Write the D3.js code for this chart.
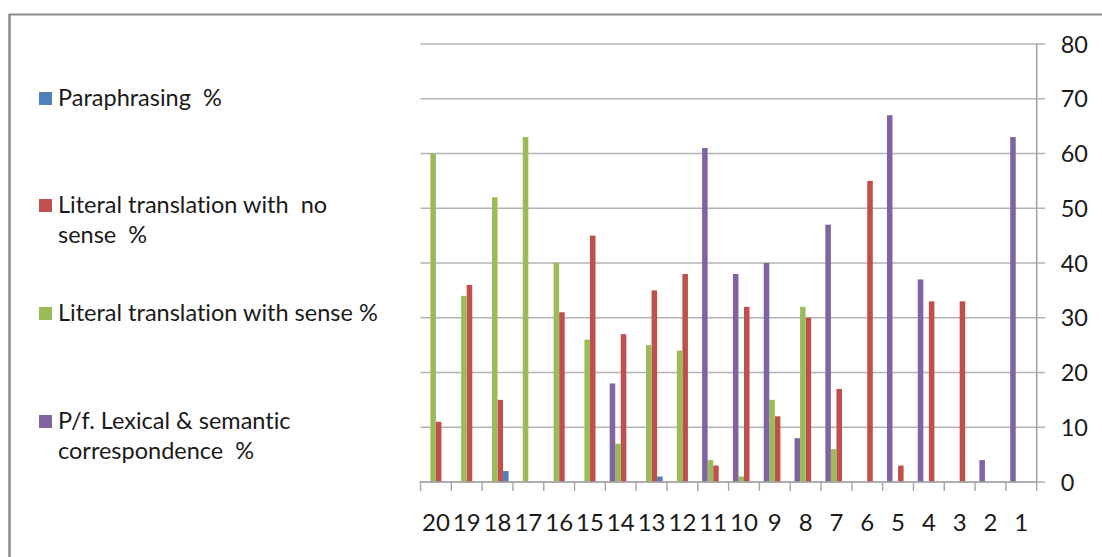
<!DOCTYPE html>
<html>
<head>
<meta charset="utf-8">
<script src="https://cdn.jsdelivr.net/npm/d3@7"></script>
<style>
  html, body { margin: 0; padding: 0; background: #fff; }
  svg { display: block; }
  text { font-family: Lato, "Open Sans", sans-serif; fill: #1a1a1a; white-space: pre; font-variant-ligatures: none; font-feature-settings: "liga" 0; }
</style>
</head>
<body>
<svg id="chart" width="1102" height="557"></svg>
<script>
// ---- data ----
const categories = ["20","19","18","17","16","15","14","13","12","11","10","9","8","7","6","5","4","3","2","1"];
const seriesNames = [
  "Paraphrasing  %",
  "Literal translation with  no sense  %",
  "Literal translation with sense %",
  "P/f. Lexical & semantic correspondence  %"
];
const paraphrasing   = [0,0,2,0,0,0,0,1,0,0,0,0,0,0,0,0,0,0,0,0];
const literalNoSense = [11,36,15,0,31,45,27,35,38,3,32,12,30,17,55,3,33,33,0,0];
const literalSense   = [60,34,52,63,40,26,7,25,24,4,1,15,32,6,0,0,0,0,0,0];
const lexicalSemantic= [0,0,0,0,0,0,18,0,0,61,38,40,8,47,0,67,37,0,4,63];
const yTicks = [0,10,20,30,40,50,60,70,80];

const legendLines = [
  ["Paraphrasing  %"],
  ["Literal translation with  no", "sense  %"],
  ["Literal translation with sense %"],
  ["P/f. Lexical & semantic", "correspondence  %"]
];
const colors = ["#4F81BD", "#C0504D", "#9BBB59", "#8064A2"];
const seriesValues = [paraphrasing, literalNoSense, literalSense, lexicalSemantic];

// ---- layout ----
const svg = d3.select("#chart");
const plot = { left: 420.5, right: 1036.7, top: 44, bottom: 482 };

const x = d3.scaleBand().domain(categories).range([plot.left, plot.right]).paddingInner(0).paddingOuter(0);
const bw = x.bandwidth();
const groupW = bw * 0.72;
// reversed category axis -> series order visually reversed
const x1 = d3.scaleBand().domain([3,2,1,0]).range([(bw - groupW) / 2, (bw + groupW) / 2]);
const y = d3.scaleLinear().domain([0, 80]).range([plot.bottom, plot.top]);

// border
svg.append("line").attr("x1", 9).attr("x2", 1102).attr("y1", 14.5).attr("y2", 14.5)
  .attr("stroke", "#8c8c8c").attr("stroke-width", 2);
svg.append("line").attr("x1", 9.5).attr("x2", 9.5).attr("y1", 14).attr("y2", 557)
  .attr("stroke", "#8c8c8c").attr("stroke-width", 2.5);

// gridlines (right axis with outside ticks)
const yAxis = d3.axisRight(y).tickValues(yTicks).tickSize(0).tickPadding(0).tickFormat(d3.format("d"));
const grid = svg.append("g");
grid.selectAll("line").data(yTicks).join("line")
  .attr("x1", plot.left).attr("x2", plot.right + 8.5)
  .attr("y1", d => y(d)).attr("y2", d => y(d))
  .attr("stroke", "#b3b3b3").attr("stroke-width", 1.6);

// bars
const groups = svg.append("g").selectAll("g").data(categories).join("g")
  .attr("transform", d => `translate(${x(d)},0)`);
groups.selectAll("rect")
  .data((c, i) => seriesValues.map((vals, s) => ({ s, v: vals[i] })).filter(d => d.v > 0))
  .join("rect")
  .attr("x", d => x1(d.s))
  .attr("width", x1.bandwidth())
  .attr("y", d => y(d.v))
  .attr("height", d => y(0) - y(d.v))
  .attr("fill", d => colors[d.s]);

// right value axis
const ya = svg.append("g").attr("transform", `translate(${plot.right},0)`).call(yAxis);
ya.select(".domain").remove();
ya.selectAll("text").attr("x", 24).attr("dy", "0.35em").style("font-size", "23.5px")
  .style("font-family", "Lato, 'Open Sans', sans-serif").attr("fill", "#1a1a1a");
svg.append("line").attr("x1", plot.right).attr("x2", plot.right)
  .attr("y1", plot.top).attr("y2", plot.bottom)
  .attr("stroke", "#a6a6a6").attr("stroke-width", 1.6);

// category axis
svg.append("line").attr("x1", plot.left - 1).attr("x2", plot.right)
  .attr("y1", plot.bottom).attr("y2", plot.bottom)
  .attr("stroke", "#a6a6a6").attr("stroke-width", 1.6);
const boundaries = categories.map(c => x(c)).concat([plot.right]);
svg.append("g").selectAll("line").data(boundaries).join("line")
  .attr("x1", d => d).attr("x2", d => d)
  .attr("y1", plot.bottom).attr("y2", plot.bottom + 9)
  .attr("stroke", "#a6a6a6").attr("stroke-width", 1.4);
const xAxis = d3.axisBottom(x).tickSize(0).tickPadding(0);
const xa = svg.append("g").attr("transform", `translate(0,${plot.bottom})`).call(xAxis);
xa.select(".domain").remove();
xa.selectAll("text").attr("y", 49).attr("dy", 0).style("font-size", "24px")
  .style("font-family", "Lato, 'Open Sans', sans-serif").attr("fill", "#1a1a1a");

// legend
const legendTop = [92, 199, 307, 415];
const leg = svg.append("g");
legendLines.forEach((lines, i) => {
  leg.append("rect").attr("x", 39).attr("y", legendTop[i]).attr("width", 13).attr("height", 13)
    .attr("fill", colors[i]);
  const t = leg.append("text").attr("x", 58).attr("y", legendTop[i] + 13.5).style("font-size", "23.5px");
  lines.forEach((ln, k) => {
    t.append("tspan").attr("x", 58).attr("dy", k === 0 ? 0 : 30.5).text(ln);
  });
});
</script>
</body>
</html>
